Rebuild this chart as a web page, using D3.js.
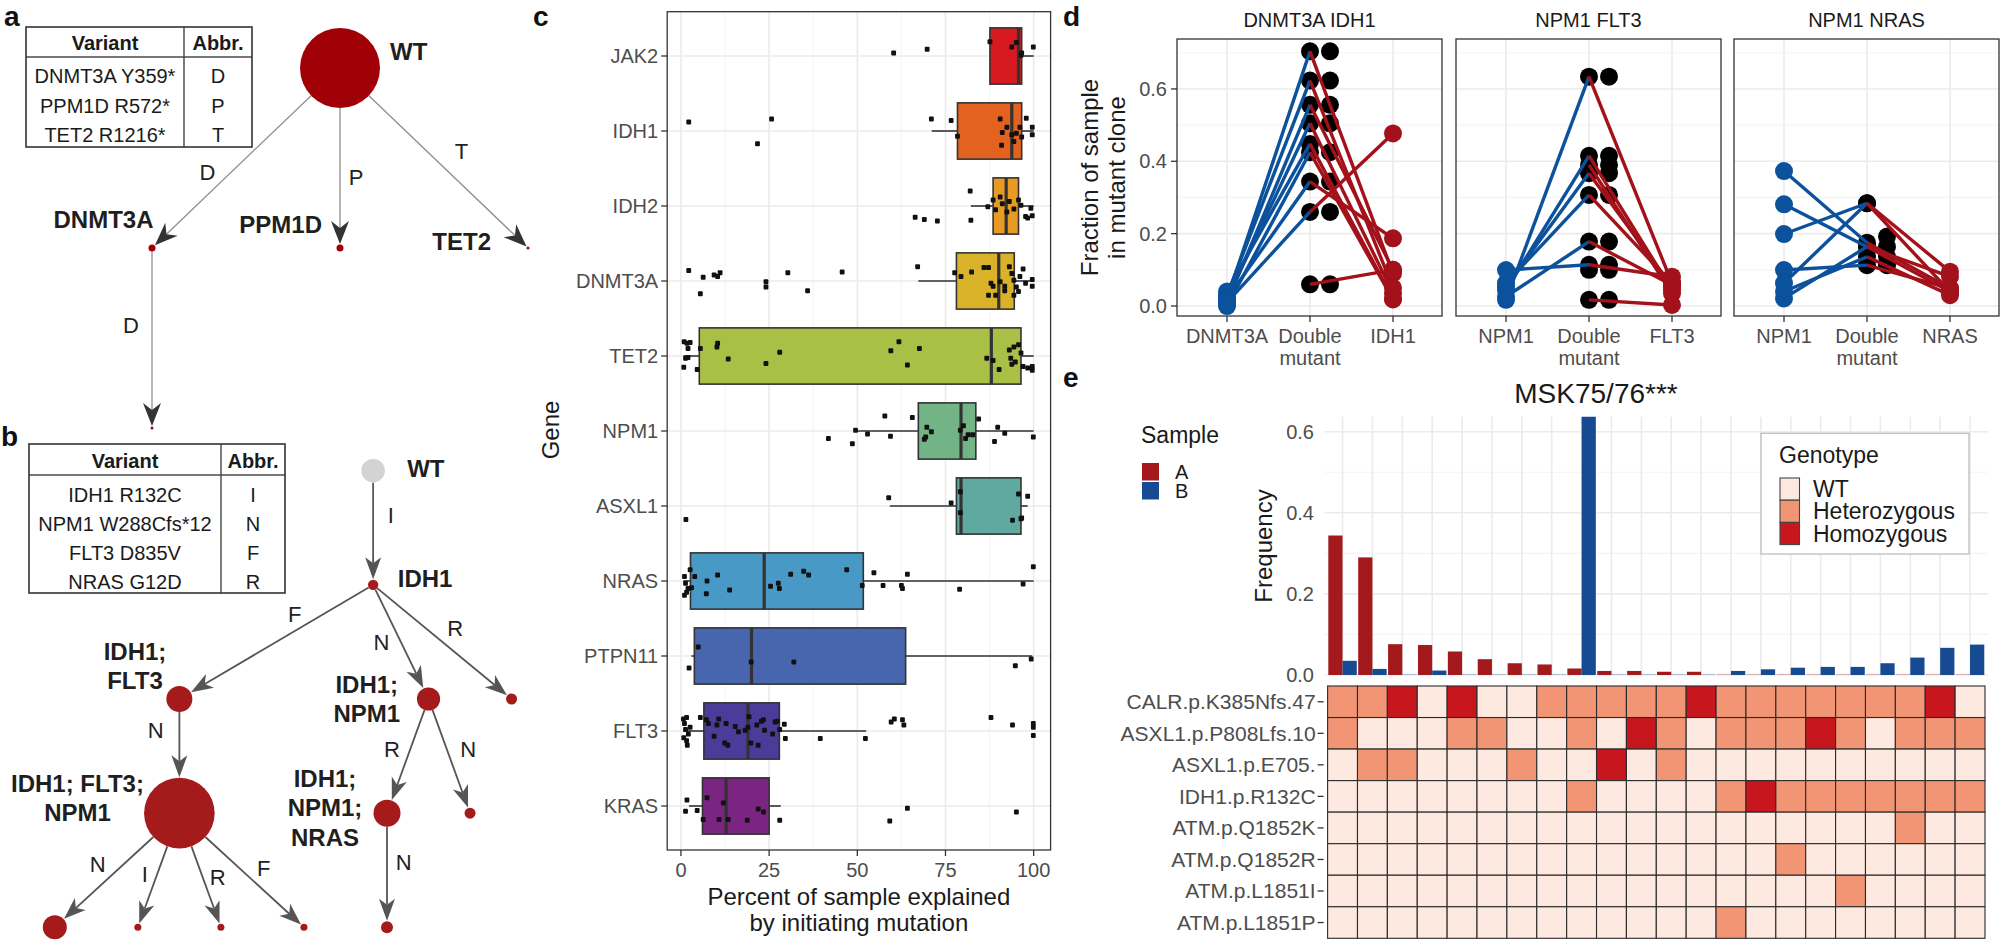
<!DOCTYPE html>
<html><head><meta charset="utf-8">
<script src="https://cdn.jsdelivr.net/npm/d3@7"></script>
<style>
body{margin:0;background:#fff}
svg{display:block}
text{font-family:"Liberation Sans",Arial,Helvetica,sans-serif}
</style></head>
<body><svg id="fig" width="2000" height="941"></svg>
<script>
// ======================= DATA =======================
// ---- panel a ----
const tableA_variants = ["DNMT3A Y359*","PPM1D R572*","TET2 R1216*"];
const tableA_abbr = ["D","P","T"];
const treeA_names = ["WT","DNMT3A","PPM1D","TET2",""];
const treeA_col = [1,0,1,2,0];
const treeA_depth = [0,1,1,1,2];
const treeA_size = [40,3.5,3.5,1.5,1.5];
const treeA_edges = [[0,1,"D"],[0,2,"P"],[0,3,"T"],[1,4,"D"]];

// ---- panel b ----
const tableB_variants = ["IDH1 R132C","NPM1 W288Cfs*12","FLT3 D835V","NRAS G12D"];
const tableB_abbr = ["I","N","F","R"];
const treeB_names = ["WT","IDH1","IDH1;\nFLT3","IDH1;\nNPM1","","IDH1; FLT3;\nNPM1","IDH1;\nNPM1;\nNRAS","","","","","",""];
const treeB_col = [3.833,3.833,1.5,4.5,5.5,1.5,4,5,0,1,2,3,4];
const treeB_depth = [0,1,2,2,2,3,3,3,4,4,4,4,4];
const treeB_size = [11.8,5.2,13,11.6,5.5,35.3,13.5,5.5,12,3.5,3.5,3.5,6];
const treeB_edges = [[0,1,"I"],[1,2,"F"],[1,3,"N"],[1,4,"R"],[2,5,"N"],[3,6,"R"],[3,7,"N"],[5,8,"N"],[5,9,"I"],[5,10,"R"],[5,11,"F"],[6,12,"N"]];

// ---- panel c ----
const genes = ["JAK2","IDH1","IDH2","DNMT3A","TET2","NPM1","ASXL1","NRAS","PTPN11","FLT3","KRAS"];
const boxQ1  = [87.6,78.4,88.5,78.1, 5.2,67.3,78.1, 2.7, 3.8, 6.5, 6.1];
const boxMed = [95.7,93.8,92.2,90.1,88.0,79.4,79.4,23.6,20.0,19.0,12.8];
const boxQ3  = [96.6,96.6,95.7,94.5,96.4,83.6,96.4,51.7,63.7,27.9,25.0];
const boxLo  = [87.6,71.1,82.2,67.3, 0.7,49.2,59.2, 0.7, 3.0, 0.7, 2.3];
const boxHi  = [100,100,100,100,100,100,98.3,100,99.6,52.5,28.3];
const geneColors = ["#d71a1f","#e4621f","#e89b24","#d9b22a","#aabf45","#72b486","#5fa9a1","#4899c6","#4766ad","#4a3c98","#7b2582"];
// jittered points: [percent, vertical jitter in category units]
const ptsJAK2 = [[60.3,-0.04],[69.8,-0.09],[87.6,-0.19],[93.8,-0.12],[95.1,-0.18],[96.4,-0.01],[96.6,-0.04],[99.9,-0.12]];
const ptsIDH1 = [[2.2,-0.12],[25.7,-0.16],[21.7,0.17],[71.0,-0.16],[76.6,-0.14],[78.4,0.07],[90.5,-0.16],[92.4,-0.05],[91.1,0.02],[90.9,0.19],[94.4,0.14],[93.8,0.05],[95.1,0.03],[96.1,-0.05],[97.9,-0.17],[99.6,-0.05],[99.6,0.05],[96.6,0.08]];
const ptsIDH2 = [[66.4,0.15],[69.0,0.18],[72.7,0.2],[82.0,-0.2],[82.2,0.19],[87.0,0.01],[88.5,-0.08],[89.2,0.05],[90.5,-0.12],[91.1,-0.03],[92.4,0.08],[93.1,-0.06],[94.4,0.04],[95.7,-0.08],[96.4,-0.01],[97.7,0.14],[98.3,0.16],[99.6,0.13],[99.2,0.03]];
const ptsDNMT3A = [[2.2,-0.14],[6.3,-0.05],[5.5,0.17],[9.4,-0.08],[10.4,-0.06],[11.1,-0.11],[24.1,0.01],[24.1,0.08],[30.3,-0.11],[35.9,0.13],[45.7,-0.12],[67.1,-0.19],[77.6,-0.11],[79.4,-0.06],[82.4,-0.12],[85.9,-0.18],[87.2,-0.18],[87.9,0.03],[88.5,0.07],[87.2,0.19],[89.2,0.19],[90.5,0.01],[91.8,0.07],[93.1,-0.19],[93.8,-0.1],[94.4,-0.01],[95.1,0.08],[95.7,0.14],[97.0,-0.16],[97.7,0.03],[99.6,-0.02],[99.6,0.07],[94.4,0.19],[91.8,0.13],[96.1,-0.06]];
const ptsTET2 = [[0.9,-0.19],[1.7,-0.17],[2.6,-0.18],[2.0,-0.1],[5.5,-0.1],[1.3,0.03],[2.0,0.02],[0.8,0.15],[4.6,0.18],[10.4,-0.17],[10.2,-0.12],[13.4,0.04],[24.1,0.1],[28.0,-0.05],[59.5,-0.07],[61.8,-0.19],[64.2,0.12],[67.6,-0.1],[86.7,0.03],[88.5,0.06],[90.2,0.18],[93.1,-0.08],[94.4,-0.12],[95.7,-0.15],[96.4,-0.04],[93.8,0.11],[94.8,0.08],[97.0,0.14],[98.3,0.16],[99.6,0.14],[99.6,0.19],[93.5,0.03]];
const ptsNPM1 = [[41.8,0.1],[48.6,0.17],[49.5,-0.01],[52.9,0.04],[57.8,-0.2],[59.4,0.07],[65.6,-0.18],[69.0,0.11],[69.7,-0.05],[71.0,0.01],[69.4,0.08],[79.2,-0.01],[80.1,-0.07],[81.4,0.05],[80.7,0.1],[82.7,0.05],[84.4,-0.16],[89.8,-0.05],[91.8,0.03],[88.9,0.14],[99.9,0.08]];
const ptsASXL1 = [[1.4,0.18],[58.9,-0.11],[76.6,-0.04],[79.2,-0.19],[79.2,0.09],[95.7,-0.16],[98.3,-0.13],[94.0,0.19],[96.4,0.17],[96.6,0.16]];
const ptsNRAS = [[1.0,-0.06],[1.3,0.03],[2.0,0.1],[1.0,0.19],[1.6,0.15],[2.6,-0.15],[3.9,-0.06],[3.0,0.09],[7.4,0.0],[7.2,0.17],[10.4,-0.08],[13.8,0.12],[25.4,0.07],[27.6,0.03],[27.9,0.1],[31.1,-0.09],[34.8,-0.13],[36.2,-0.08],[47.0,-0.15],[51.4,0.06],[54.7,-0.11],[57.3,0.06],[62.5,0.06],[62.8,0.1],[64.2,-0.09],[79.0,0.11],[97.0,0.04],[99.9,-0.19]];
const ptsPTPN11 = [[2.3,0.16],[4.9,-0.12],[19.9,0.08],[32.0,0.08],[94.8,0.13],[99.3,0.04]];
const ptsFLT3 = [[0.7,-0.16],[1.6,-0.18],[1.0,-0.1],[0.8,0.09],[1.6,0.13],[1.8,0.19],[2.1,0.04],[1.3,-0.02],[2.6,-0.05],[5.5,-0.18],[7.2,-0.15],[7.8,-0.1],[9.4,0.07],[10.2,-0.08],[10.7,-0.16],[12.8,-0.1],[12.4,0.16],[13.3,0.19],[15.4,-0.06],[16.3,0.01],[18.2,-0.01],[19.3,-0.19],[19.0,-0.05],[19.8,0.16],[21.5,-0.08],[21.9,0.19],[22.8,-0.13],[23.4,-0.15],[23.7,-0.01],[26.0,0.04],[26.7,-0.12],[27.3,-0.13],[28.0,-0.02],[29.6,0.1],[29.3,-0.09],[39.5,0.1],[52.3,0.1],[59.6,-0.12],[60.5,-0.16],[62.8,-0.15],[63.2,-0.08],[87.9,-0.18],[94.0,-0.08],[99.9,-0.1],[99.9,-0.05],[99.9,0.06]];
const ptsKRAS = [[1.7,-0.08],[1.3,0.07],[4.6,0.06],[6.3,0.18],[7.4,-0.11],[10.8,0.18],[12.0,-0.04],[13.4,0.18],[18.8,0.19],[21.9,0.04],[23.4,0.08],[28.0,0.19],[59.2,0.2],[64.2,0.03],[95.1,0.08]];
const genePoints = [ptsJAK2,ptsIDH1,ptsIDH2,ptsDNMT3A,ptsTET2,ptsNPM1,ptsASXL1,ptsNRAS,ptsPTPN11,ptsFLT3,ptsKRAS];
const cTicks = [0,25,50,75,100];

// ---- panel d ----
const dTitles = ["DNMT3A IDH1","NPM1 FLT3","NPM1 NRAS"];
const dCats = [["DNMT3A","Double\nmutant","IDH1"],["NPM1","Double\nmutant","FLT3"],["NPM1","Double\nmutant","NRAS"]];
const d1_first  = [0.02,0.03,0.01,0.02,0.04,0.0,0.02,0.01,null];
const d1_double = [0.704,0.623,0.556,0.505,0.448,0.425,0.344,0.26,0.06];
const d1_second = [0.09,0.05,0.10,0.035,0.02,0.018,0.187,0.477,0.10];
const d2_first  = [0.017,0.044,null,0.054,0.063,0.026,0.0995,null,null];
const d2_double = [0.634,0.415,0.39,0.367,0.307,0.178,0.114,0.10,0.017];
const d2_second = [0.063,0.044,0.035,0.054,0.063,0.058,0.081,null,0.003];
const d3_first  = [0.373,0.281,0.199,0.0995,0.063,0.04,0.021];
const d3_double = [0.175,0.164,0.284,0.113,0.284,0.136,0.164];
const d3_second = [0.049,0.081,0.095,0.049,0.04,0.03,0.04];
// double-mutant values of the second (replicate) black point column
const d1_replicate = [0.704,0.623,0.556,0.505,0.425,0.344,0.26,0.06];
const d2_replicate = [0.634,0.415,0.39,0.367,0.307,0.178,0.114,0.10,0.017];
const d3_replicate = [0.192,0.164,0.136,0.113];
const dFirst = [d1_first,d2_first,d3_first];
const dDouble = [d1_double,d2_double,d3_double];
const dSecond = [d1_second,d2_second,d3_second];
const dReplicate = [d1_replicate,d2_replicate,d3_replicate];
const dTicks = [0,0.2,0.4,0.6];

// ---- panel e ----
const eVariants = ["CALR.p.K385Nfs.47","ASXL1.p.P808Lfs.10","ASXL1.p.E705.","IDH1.p.R132C","ATM.p.Q1852K","ATM.p.Q1852R","ATM.p.L1851I","ATM.p.L1851P"];
// genotype strings per variant, one char per column: W = WT, H = Heterozygous, O = Homozygous
const eGenotypes = [
 "HHOWOWWHHHHHOHHHHHHHOW",
 "HWWWHHWWHWOHWHHHOHWHHH",
 "WHHWWWHWWOWHWWWWWWWWWW",
 "WWWWWWWWHWWWWHOHHHHHHH",
 "WWWWWWWWWWWWWWWWWWWHWW",
 "WWWWWWWWWWWWWWWHWWWWWW",
 "WWWWWWWWWWWWWWWWWHWWWW",
 "WWWWWWWWWWWWWHWWWWWWWW"];
const freqA = [0.344,0.290,0.076,0.074,0.058,0.039,0.029,0.026,0.016,0.010,0.010,0.008,0.008,0,0,0,0,0,0,0,0,0];
const freqB = [0.035,0.015,0,0.011,0,0,0,0,0.66,0,0,0,0,0.010,0.014,0.018,0.020,0.020,0.029,0.043,0.067,0.075];
const eTicks = [0,0.2,0.4,0.6];
const genotypeNames = ["WT","Heterozygous","Homozygous"];
const genotypeCodes = ["W","H","O"];
const genotypeColors = ["#fde9df","#f19575","#c8161e"];
const sampleNames = ["A","B"];
const sampleColors = ["#a3191c","#164a93"];

// ======================= DRAWING =======================
const svg = d3.select("#fig");
svg.append("rect").attr("width",2000).attr("height",941).attr("fill","#fff");
const AX = "#4d4d4d", DARK = "#1a1a1a", GRID = "#ebebeb", GRIDMIN = "#f4f4f4";

function text(g, x, y, s, size, opt={}) {
  const t = g.append("text").attr("x",x).attr("y",y).attr("font-size",size)
    .attr("fill",opt.fill||DARK).attr("text-anchor",opt.anchor||"start")
    .attr("font-weight",opt.bold?"bold":"normal").text(s);
  if (opt.dy) t.attr("dy",opt.dy);
  if (opt.rotate) t.attr("transform",`rotate(${opt.rotate},${x},${y})`);
  return t;
}

// panel letters
[["a",4,26],["b",1,446],["c",533,26],["d",1063,26],["e",1063,387]].forEach(([l,x,y])=>text(svg,x,y,l,28,{bold:true,fill:"#111"}));

// ---------- tables ----------
function drawTable(box, colX, headSepY, headBase, rowBase0, rowStep, variants, abbr) {
  const g = svg.append("g");
  const [x0,y0,x1,y1] = box;
  const rowY = d3.scaleLinear().domain([0,1]).range([rowBase0,rowBase0+rowStep]);
  text(g,(x0+colX)/2,headBase,"Variant",20,{anchor:"middle",bold:true});
  text(g,(colX+x1)/2,headBase,"Abbr.",20,{anchor:"middle",bold:true});
  variants.forEach((v,i)=>{
    text(g,(x0+colX)/2,rowY(i),v,20,{anchor:"middle"});
    text(g,(colX+x1)/2,rowY(i),abbr[i],20,{anchor:"middle"});
  });
  g.append("line").attr("x1",x0).attr("x2",x1).attr("y1",headSepY).attr("y2",headSepY).attr("stroke","#777").attr("stroke-width",2.2);
  g.append("line").attr("x1",colX).attr("x2",colX).attr("y1",y0).attr("y2",y1).attr("stroke","#444").attr("stroke-width",1.4);
  g.append("rect").attr("x",x0).attr("y",y0).attr("width",x1-x0).attr("height",y1-y0).attr("fill","none").attr("stroke","#333").attr("stroke-width",1.6);
}
drawTable([26,27,252,147],184,57,50,83.3,29.2,tableA_variants,tableA_abbr);
drawTable([29,444,285,593],221,475,468,502,29,tableB_variants,tableB_abbr);

// ---------- trees ----------
function drawTree(names, cols, depths, sizes, edges, sx, sy, st) {
  const g = svg.append("g");
  const nodes = names.map((n,i)=>({name:n,x:sx(cols[i]),y:sy(depths[i]),r:sizes[i]}));
  edges.forEach(([s,t,lab],i)=>{
    const a=nodes[s], b=nodes[t];
    const dx=b.x-a.x, dy=b.y-a.y, L=Math.hypot(dx,dy), ux=dx/L, uy=dy/L, px=-uy, py=ux;
    const x1=a.x+ux*a.r, y1=a.y+uy*a.r;
    const tx=b.x-ux*(b.r+st.gap), ty=b.y-uy*(b.r+st.gap);
    const bx=tx-ux*st.len, by=ty-uy*st.len;
    const nx=tx-ux*(st.len-st.notch), ny=ty-uy*(st.len-st.notch);
    g.append("line").attr("x1",x1).attr("y1",y1).attr("x2",nx).attr("y2",ny).attr("stroke",st.edge).attr("stroke-width",st.ew);
    g.append("path").attr("d",`M${tx},${ty}L${bx+px*st.hw},${by+py*st.hw}L${nx},${ny}L${bx-px*st.hw},${by-py*st.hw}Z`).attr("fill",st.head);
    const off = st.labelOff[i];
    text(g,(a.x+b.x)/2+off[0],(a.y+b.y)/2+off[1],lab,22,{anchor:"middle",fill:"#222"});
  });
  nodes.forEach((n,i)=>{
    g.append("circle").attr("cx",n.x).attr("cy",n.y).attr("r",n.r).attr("fill",st.nodeFill[i]||st.fill);
    if (!n.name) return;
    const lo = st.nodeLab[i];
    n.name.split("\n").forEach((ln,k)=>text(g,n.x+lo[0],n.y+lo[1]+k*29.5,ln,24,{anchor:lo[2],bold:true,fill:"#1f1f1f"}));
  });
}
drawTree(treeA_names,treeA_col,treeA_depth,treeA_size,treeA_edges,
  d3.scaleLinear().domain([0,1]).range([152,340]),
  d3.scaleLinear().domain([0,1]).range([68,248]),
  {gap:0.5,len:23,hw:9,notch:7,edge:"#8f8f8f",ew:1.3,head:"#333",fill:"#a00006",nodeFill:[],
   labelOff:[[-38.5,22],[16,27],[27.5,1],[-21,-5]],
   nodeLab:[[50,-8,"start"],[1.5,-20,"end"],[-18,-15,"end"],[-37,2,"end"],null]});
drawTree(treeB_names,treeB_col,treeB_depth,treeB_size,treeB_edges,
  d3.scaleLinear().domain([0,1]).range([54.8,137.85]),
  d3.scaleLinear().domain([0,1]).range([470.7,584.85]),
  {gap:0.5,len:22,hw:8,notch:6,edge:"#555",ew:1.8,head:"#555",fill:"#a51b1b",nodeFill:["#d3d3d3"],
   labelOff:[[17.7,-4.9],[18.4,-19.5],[-19.3,7.8],[12.8,-5.5],[-23.6,-18],[-15.9,1.4],[18.8,1.4],[-19.4,1.4],[-13.7,11.4],[17.5,14.7],[22,5.7],[16.7,-0.3]],
   nodeLab:[[34,6.3,"start"],[24.6,2,"start"],[-44.4,-39.2,"middle"],[-61.8,-6.5,"middle"],null,[-101.9,-21.6,"middle"],[-62,-26.6,"middle"]]});

// ---------- panel c ----------
(function(){
  const g = svg.append("g");
  const L=667.2,R=1050.6,T=11.7,B=850;
  const x = d3.scaleLinear().domain([-3.9,104.8]).range([L,R]);
  const y = d3.scalePoint().domain(genes).range([56,806]);
  const step = 75, bh = step*0.75;
  [12.5,37.5,62.5,87.5].forEach(v=>g.append("line").attr("x1",x(v)).attr("x2",x(v)).attr("y1",T).attr("y2",B).attr("stroke",GRIDMIN).attr("stroke-width",1));
  cTicks.forEach(v=>g.append("line").attr("x1",x(v)).attr("x2",x(v)).attr("y1",T).attr("y2",B).attr("stroke",GRID).attr("stroke-width",1.6));
  genes.forEach(gn=>g.append("line").attr("x1",L).attr("x2",R).attr("y1",y(gn)).attr("y2",y(gn)).attr("stroke",GRID).attr("stroke-width",1.6));
  genes.forEach((gn,i)=>{
    const cy=y(gn);
    g.append("line").attr("x1",x(boxLo[i])).attr("x2",x(boxQ1[i])).attr("y1",cy).attr("y2",cy).attr("stroke","#333").attr("stroke-width",1.6);
    g.append("line").attr("x1",x(boxQ3[i])).attr("x2",x(boxHi[i])).attr("y1",cy).attr("y2",cy).attr("stroke","#333").attr("stroke-width",1.6);
    g.append("rect").attr("x",x(boxQ1[i])).attr("y",cy-bh/2).attr("width",x(boxQ3[i])-x(boxQ1[i])).attr("height",bh)
      .attr("fill",geneColors[i]).attr("stroke","#333").attr("stroke-width",1.6);
    g.append("line").attr("x1",x(boxMed[i])).attr("x2",x(boxMed[i])).attr("y1",cy-bh/2).attr("y2",cy+bh/2).attr("stroke","#333").attr("stroke-width",3.2);
  });
  genes.forEach((gn,i)=>{
    genePoints[i].forEach(([v,j])=>g.append("rect").attr("x",x(v)-2.4).attr("y",y(gn)+j*step-2.4).attr("width",4.8).attr("height",4.8).attr("rx",1).attr("fill","#111"));
  });
  g.append("rect").attr("x",L).attr("y",T).attr("width",R-L).attr("height",B-T).attr("fill","none").attr("stroke","#333").attr("stroke-width",1.3);
  genes.forEach(gn=>{
    g.append("line").attr("x1",L-6).attr("x2",L).attr("y1",y(gn)).attr("y2",y(gn)).attr("stroke","#333").attr("stroke-width",1.3);
    text(g,L-9,y(gn),gn,20,{anchor:"end",fill:AX,dy:"0.35em"});
  });
  cTicks.forEach(v=>{
    g.append("line").attr("x1",x(v)).attr("x2",x(v)).attr("y1",B).attr("y2",B+6).attr("stroke","#333").attr("stroke-width",1.3);
    text(g,x(v),877,String(v),20,{anchor:"middle",fill:AX});
  });
  text(g,(L+R)/2,905,"Percent of sample explained",24,{anchor:"middle"});
  text(g,(L+R)/2,931,"by initiating mutation",24,{anchor:"middle"});
  text(g,551,430,"Gene",24,{anchor:"middle",rotate:-90,dy:"0.35em"});
})();

// ---------- panel d ----------
(function(){
  const g = svg.append("g");
  const T=39,B=316;
  const y = d3.scaleLinear().domain([-0.0276,0.738]).range([B,T]);
  const panelL = [1177,1456,1734], W = 265;
  dTitles.forEach((tl,p)=>{
    const L=panelL[p], R=L+W;
    const x = d3.scalePoint().domain([0,1,2]).range([L+50,R-49]);
    [0.1,0.3,0.5,0.7].forEach(v=>g.append("line").attr("x1",L).attr("x2",R).attr("y1",y(v)).attr("y2",y(v)).attr("stroke",GRIDMIN).attr("stroke-width",1.2));
    dTicks.forEach(v=>g.append("line").attr("x1",L).attr("x2",R).attr("y1",y(v)).attr("y2",y(v)).attr("stroke",GRID).attr("stroke-width",1.6));
    [0,1,2].forEach(c=>g.append("line").attr("x1",x(c)).attr("x2",x(c)).attr("y1",T).attr("y2",B).attr("stroke",GRID).attr("stroke-width",1.6));
    const f=dFirst[p], d=dDouble[p], s=dSecond[p];
    // black double-mutant points and their replicate column
    d.forEach(v=>g.append("circle").attr("cx",x(1)).attr("cy",y(v)).attr("r",9).attr("fill","#000"));
    dReplicate[p].forEach(v=>g.append("circle").attr("cx",x(1)+20).attr("cy",y(v)).attr("r",9).attr("fill","#000"));
    d.forEach((v,i)=>{
      if (f[i]!=null) g.append("line").attr("x1",x(0)).attr("y1",y(f[i])).attr("x2",x(1)).attr("y2",y(v)).attr("stroke","#0b519c").attr("stroke-width",3.4);
    });
    d.forEach((v,i)=>{
      if (s[i]!=null) g.append("line").attr("x1",x(1)).attr("y1",y(v)).attr("x2",x(2)).attr("y2",y(s[i])).attr("stroke","#a3111a").attr("stroke-width",3.4);
    });
    f.forEach(v=>{ if(v!=null) g.append("circle").attr("cx",x(0)).attr("cy",y(v)).attr("r",9).attr("fill","#0b519c"); });
    s.forEach(v=>{ if(v!=null) g.append("circle").attr("cx",x(2)).attr("cy",y(v)).attr("r",9).attr("fill","#a3111a"); });
    g.append("rect").attr("x",L).attr("y",T).attr("width",W).attr("height",B-T).attr("fill","none").attr("stroke","#333").attr("stroke-width",1.3);
    text(g,(L+R)/2,27,tl,20,{anchor:"middle"});
    dCats[p].forEach((c,ci)=>{
      g.append("line").attr("x1",x(ci)).attr("x2",x(ci)).attr("y1",B).attr("y2",B+6).attr("stroke","#333").attr("stroke-width",1.3);
      c.split("\n").forEach((ln,k)=>text(g,x(ci),343+k*22,ln,20,{anchor:"middle",fill:AX}));
    });
    if (p===0) {
      dTicks.forEach(v=>{
        g.append("line").attr("x1",L-6).attr("x2",L).attr("y1",y(v)).attr("y2",y(v)).attr("stroke","#333").attr("stroke-width",1.3);
        text(g,L-10,y(v),v.toFixed(1),20,{anchor:"end",fill:AX,dy:"0.35em"});
      });
    }
  });
  text(g,1090,177.5,"Fraction of sample",24,{anchor:"middle",rotate:-90,dy:"0.35em"});
  text(g,1117,177.5,"in mutant clone",24,{anchor:"middle",rotate:-90,dy:"0.35em"});
})();

// ---------- panel e ----------
(function(){
  const g = svg.append("g");
  const L=1327.6,R=1985,T=416.7,B0=675;
  const cols = d3.range(freqA.length);
  const xb = d3.scaleBand().domain(cols).range([L,R]);
  const inner = d3.scaleBand().domain([0,1]).range([0,xb.bandwidth()]).paddingOuter(0.05);
  const y = d3.scaleLinear().domain([0,0.637]).range([B0,T]);
  [0.1,0.3,0.5].forEach(v=>g.append("line").attr("x1",L-3).attr("x2",R+3).attr("y1",y(v)).attr("y2",y(v)).attr("stroke",GRIDMIN).attr("stroke-width",1.2));
  eTicks.forEach(v=>g.append("line").attr("x1",L-3).attr("x2",R+3).attr("y1",y(v)).attr("y2",y(v)).attr("stroke",GRID).attr("stroke-width",1.6));
  cols.forEach(c=>g.append("line").attr("x1",xb(c)+xb.bandwidth()/2).attr("x2",xb(c)+xb.bandwidth()/2).attr("y1",T).attr("y2",B0).attr("stroke",GRID).attr("stroke-width",1.6));
  svg.append("clipPath").attr("id","eclip").append("rect").attr("x",L-5).attr("y",T).attr("width",R-L+10).attr("height",B0-T+2);
  const bars = g.append("g").attr("clip-path","url(#eclip)");
  [freqA,freqB].forEach((arr,si)=>{
    arr.forEach((v,c)=>{
      const h = Math.max(1.2,y(0)-y(v));
      bars.append("rect").attr("x",xb(c)+inner(si)).attr("width",inner.bandwidth()).attr("y",y(0)-h).attr("height",h)
        .attr("fill",sampleColors[si]).attr("opacity",v>0?1:0.28);
    });
  });
  eTicks.forEach(v=>text(g,1314,y(v),v.toFixed(1),20,{anchor:"end",fill:AX,dy:"0.35em"}));
  text(g,1264,546,"Frequency",24,{anchor:"middle",rotate:-90,dy:"0.35em"});
  text(g,1596,403,"MSK75/76***",28,{anchor:"middle"});
  // heatmap
  const yh = d3.scaleBand().domain(eVariants).range([686,938.3]);
  eVariants.forEach((vn,r)=>{
    cols.forEach(c=>{
      const code = eGenotypes[r][c];
      g.append("rect").attr("x",xb(c)).attr("y",yh(vn)).attr("width",xb.bandwidth()).attr("height",yh.bandwidth())
        .attr("fill",genotypeColors[genotypeCodes.indexOf(code)]).attr("stroke","#2b2b2b").attr("stroke-width",1.1);
    });
    const cy = yh(vn)+yh.bandwidth()/2;
    g.append("line").attr("x1",L-10).attr("x2",L-4).attr("y1",cy).attr("y2",cy).attr("stroke","#333").attr("stroke-width",1.3);
    text(g,L-12,cy,vn,21,{anchor:"end",fill:AX,dy:"0.35em"});
  });
  // Sample legend
  text(g,1141,443,"Sample",23);
  sampleNames.forEach((s,i)=>{
    g.append("rect").attr("x",1142).attr("y",463+i*19).attr("width",17).attr("height",17.5).attr("fill",sampleColors[i]);
    text(g,1175,463+i*19+8.75,s,20,{dy:"0.35em",fill:DARK});
  });
  // Genotype legend
  g.append("rect").attr("x",1761).attr("y",433.3).attr("width",208).attr("height",120.7).attr("fill","#fff").attr("stroke","#bdbdbd").attr("stroke-width",1.3);
  text(g,1779,463,"Genotype",23);
  genotypeNames.forEach((nm,i)=>{
    g.append("rect").attr("x",1780).attr("y",478+i*22.2).attr("width",19.5).attr("height",22.2).attr("fill",genotypeColors[i]).attr("stroke","#444").attr("stroke-width",1.1);
    text(g,1813,478+i*22.2+11.1,nm,23,{dy:"0.35em"});
  });
})();
</script>
</body></html>
